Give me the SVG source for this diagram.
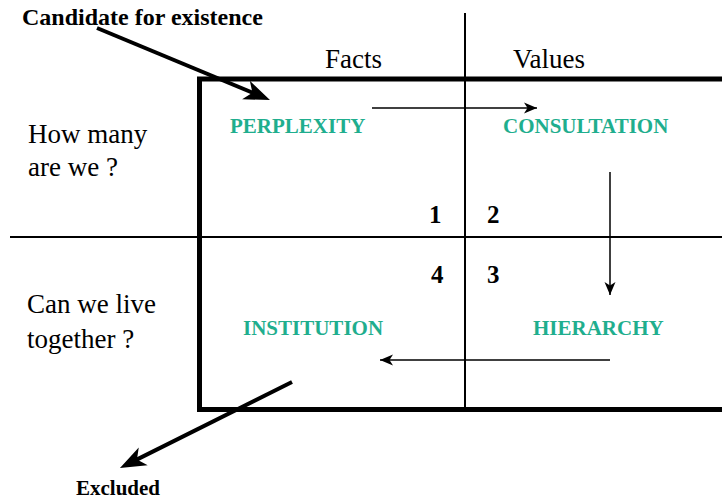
<svg xmlns="http://www.w3.org/2000/svg" width="722" height="499" viewBox="0 0 722 499">
<style>
text{font-family:'Liberation Serif','Times New Roman',Times,'DejaVu Serif',serif}
.lbl{font-size:27px;fill:#000}
.bold{font-weight:bold;fill:#000}
.node{font-weight:bold;font-size:21px;fill:#1fae8e}
.thin{stroke:#000;stroke-width:1.5;fill:none}
.thick{stroke:#000;stroke-width:4;fill:none}
.frame{stroke:#000;stroke-width:5;fill:none}
.div{stroke:#000;stroke-width:2;fill:none}
</style>
<defs>
<marker id="ah-thin" markerUnits="userSpaceOnUse" markerWidth="14" markerHeight="12" refX="13" refY="6" orient="auto">
<path d="M0,0.5 L13,6 L0,11.5 L3.5,6 z" fill="#000"/>
</marker>
<marker id="ah-thick" markerUnits="userSpaceOnUse" markerWidth="27" markerHeight="22" refX="14" refY="11" orient="auto">
<path d="M0,1 L26,11 L0,21 L7,11 z" fill="#000"/>
</marker>
</defs>
<rect width="722" height="499" fill="#fff"/>
<g id="grid">
<rect class="frame" x="199.5" y="79" width="540" height="330.5"/>
<line class="div" x1="465" y1="13" x2="465" y2="409"/>
<line class="div" x1="10" y1="237" x2="722" y2="237"/>
</g>
<g id="headers">
<text class="lbl" x="325" y="68">Facts</text>
<text class="lbl" x="513" y="68">Values</text>
</g>
<g id="row-how-many">
<text class="lbl" x="28" y="143">How many</text>
<text class="lbl" x="28" y="176">are we ?</text>
</g>
<g id="row-live-together">
<text class="lbl" x="27" y="313">Can we live</text>
<text class="lbl" x="27" y="348">together ?</text>
</g>
<g id="quadrant-numbers">
<text class="bold" font-size="25" x="429" y="223">1</text>
<text class="bold" font-size="25" x="487" y="223">2</text>
<text class="bold" font-size="25" x="431" y="283">4</text>
<text class="bold" font-size="25" x="487" y="283">3</text>
</g>
<g id="candidate"><text class="bold" font-size="24" x="22" y="25">Candidate for existence</text></g>
<g id="excluded"><text class="bold" font-size="21" x="76" y="495">Excluded</text></g>
<g id="perplexity"><text class="node" x="230" y="133">PERPLEXITY</text></g>
<g id="consultation"><text class="node" x="503" y="133">CONSULTATION</text></g>
<g id="hierarchy"><text class="node" x="533" y="335">HIERARCHY</text></g>
<g id="institution"><text class="node" x="243" y="335">INSTITUTION</text></g>
<g id="connectors">
<line class="thick" x1="97" y1="28" x2="258.9" y2="95.4" marker-end="url(#ah-thick)"/>
<line class="thin" x1="372" y1="108" x2="537" y2="108" marker-end="url(#ah-thin)"/>
<line class="thin" x1="610" y1="172" x2="610" y2="295" marker-end="url(#ah-thin)"/>
<line class="thin" x1="610" y1="360" x2="380" y2="360" marker-end="url(#ah-thin)"/>
<line class="thick" x1="292" y1="382" x2="130.7" y2="462.6" marker-end="url(#ah-thick)"/>
</g>
</svg>
